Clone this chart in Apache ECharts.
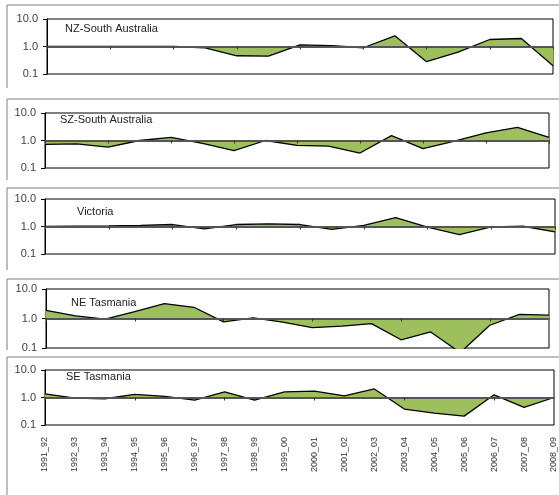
<!DOCTYPE html>
<html><head><meta charset="utf-8">
<script src="https://cdn.jsdelivr.net/npm/echarts@6/dist/echarts.min.js"></script>
<style>html,body{margin:0;padding:0;background:#fff}#c{width:559px;height:495px}</style>
</head><body><div id="c"></div>
<script>
var catsAll = ['1991_92','1992_93','1993_94','1994_95','1995_96','1996_97','1997_98','1998_99','1999_00','2000_01','2001_02','2002_03','2003_04','2004_05','2005_06','2006_07','2007_08','2008_09'];
var catsTop = catsAll.slice(1);
var titles = ['NZ-South Australia','SZ-South Australia','Victoria','NE Tasmania','SE Tasmania'];
var nzSA = [1.0,1.0,1.0,1.0,1.0,0.9,0.46,0.45,1.15,1.08,0.9,2.45,0.28,0.62,1.8,1.95,0.2];
var szSA = [0.72,0.76,0.57,1.0,1.3,0.78,0.43,1.0,0.66,0.62,0.35,1.5,0.51,0.95,1.9,3.0,1.3];
var vic  = [1.0,1.02,1.05,1.1,1.18,0.82,1.18,1.25,1.18,0.78,1.1,2.1,0.95,0.51,0.97,1.02,0.64];
var neTas = [1.9,1.23,0.95,1.7,3.2,2.4,0.77,1.05,0.75,0.49,0.55,0.67,0.19,0.35,0.07,0.59,1.37,1.3];
var seTas = [1.36,0.95,0.9,1.3,1.1,0.8,1.6,0.8,1.6,1.7,1.15,2.05,0.38,0.27,0.21,1.25,0.44,1.0];

var seriesData = [nzSA, szSA, vic, neTas, seTas];
var catList = [catsTop, catsTop, catsTop, catsAll, catsAll];
var grids = [
  {left:47, top:19, width:506, height:55},
  {left:45, top:113, width:504, height:55},
  {left:45, top:199, width:510, height:55},
  {left:46, top:289, width:503, height:59},
  {left:45, top:370, width:509, height:55}
];
var frameTops = [5, 99, 188, 279, 357];
var frameBottoms = [88, 180, 270, 350, 495];
var titlePos = [[65,30],[60,121],[77,213],[71,304],[66,378]];
var FONT = '"Liberation Sans", Arial, sans-serif';

var option = {
  animation:false,
  grid:[], xAxis:[], yAxis:[], series:[], graphic:[]
};
for (var i=0;i<5;i++){
  var g = grids[i];
  option.grid.push({left:g.left, top:g.top, width:g.width, height:g.height, show:true, borderColor:'#000', borderWidth:1, backgroundColor:'transparent', containLabel:false});
  option.xAxis.push({type:'category', gridIndex:i, data:catList[i], boundaryGap:false, position:'bottom', offset:-g.height/2, z:5,
    axisLine:{show:true, lineStyle:{color:'#555', width:2}},
    axisTick:{show:true, length:3, lineStyle:{color:'#333', width:1}},
    axisLabel:{show:false}, splitLine:{show:false}});
  option.yAxis.push({type:'log', logBase:10, gridIndex:i, min:0.1, max:10,
    axisLine:{show:true, lineStyle:{color:'#000', width:1}},
    axisTick:{show:true, length:4, lineStyle:{color:'#000'}},
    axisLabel:{margin:9, color:'#404040', fontSize:11, fontFamily:FONT, formatter:function(v){return Number(v).toFixed(1);}},
    splitLine:{show:false}});
  option.series.push({type:'line', xAxisIndex:option.xAxis.length-1, yAxisIndex:i, data:seriesData[i], symbol:'none', z:2,
    lineStyle:{color:'#000', width:1.3}, areaStyle:{color:'#9DBF5E', opacity:1, origin:1}});
  option.graphic.push({type:'line', shape:{x1:7, y1:frameTops[i], x2:559, y2:frameTops[i]}, style:{stroke:'#7f7f7f', lineWidth:1}});
  option.graphic.push({type:'line', shape:{x1:7, y1:frameTops[i], x2:7, y2:frameBottoms[i]}, style:{stroke:'#7f7f7f', lineWidth:1}});
  option.graphic.push({type:'text', left:titlePos[i][0], top:titlePos[i][1]-7, style:{text:titles[i], fill:'#222', font:'11px '+FONT}, z:10});
}
option.xAxis.push({type:'category', gridIndex:4, data:catsAll, boundaryGap:false, position:'bottom',
  axisLine:{show:false}, axisTick:{show:false},
  axisLabel:{show:true, rotate:90, margin:12, color:'#333', fontSize:9, fontFamily:FONT, interval:0}});
var chart = echarts.init(document.getElementById('c'), null, {renderer:'canvas'});
chart.setOption(option);
</script>
</body></html>
